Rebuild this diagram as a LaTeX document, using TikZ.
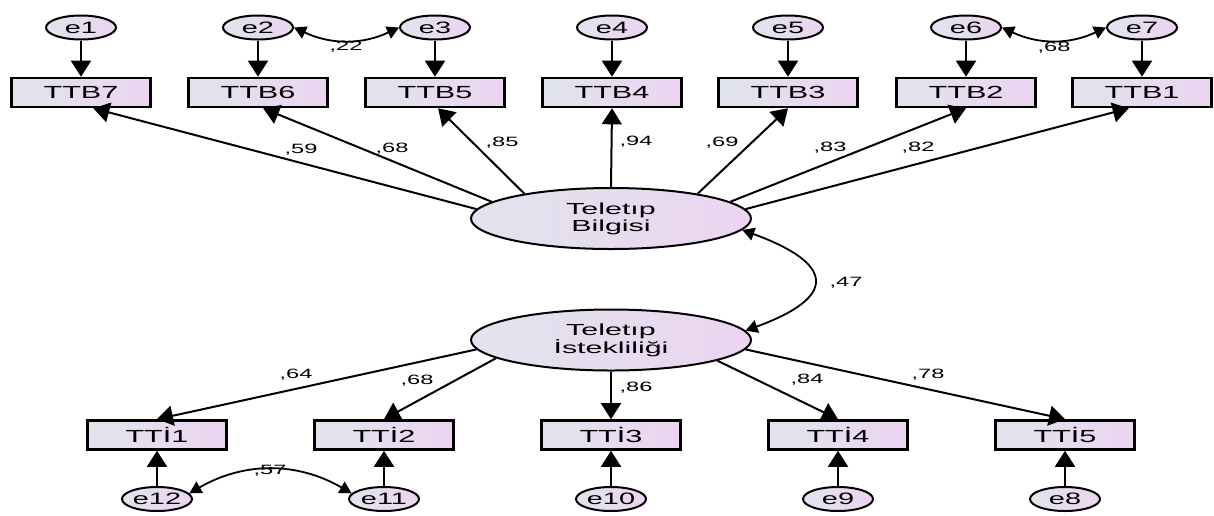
\documentclass[tikz,border=0pt]{standalone}
\usepackage{fontspec}
\setmainfont{Liberation Sans}[FakeStretch=1.75]
\newfontfamily\latfont{Liberation Sans}[FakeStretch=1.9]
\usepackage{tikz}
\usetikzlibrary{arrows.meta,shapes.geometric}
\definecolor{amosleft}{RGB}{225,228,237}
\definecolor{amosright}{RGB}{236,212,241}
\tikzstyle{observed}=[rectangle, draw, line width=2.6pt, minimum width=139pt, minimum height=29pt, inner sep=0pt, left color=amosleft, right color=amosright, font=\fontsize{17.5}{20}\selectfont]
\tikzstyle{errvar}=[ellipse, draw, line width=2pt, minimum width=70pt, minimum height=24pt, inner sep=0pt, left color=amosleft, right color=amosright, font=\fontsize{16.5}{19}\selectfont]
\tikzstyle{latent}=[ellipse, draw, line width=2pt, minimum width=280pt, minimum height=61pt, inner sep=0pt, align=center, left color=amosleft, right color=amosright, font=\latfont\fontsize{16}{17}\selectfont]
\tikzstyle{coef}=[inner sep=0pt, font=\fontsize{13.5}{15}\selectfont]
\tikzstyle{loading}=[draw=black, line width=2pt, -{Triangle[length=16pt,width=20pt]}]
\tikzstyle{cov}=[draw=black, line width=1.8pt, {Triangle[length=12pt,width=13pt]}-{Triangle[length=12pt,width=13pt]}]

\begin{document}
\begin{tikzpicture}[x=1pt,y=1pt]
	\useasboundingbox (0,0) rectangle (1214,-515);
	\begin{scope}
		% latent variables
		\node (TB) at (611,-218.5)[latent] {Teletıp\\Bilgisi};
		\node (TI) at (611,-340)[latent] {Teletıp\\İstekliliği};
		% top indicators
		\node (TTB7) at (81,-92.5)[observed] {TTB7};
		\node (TTB6) at (258,-92.5)[observed] {TTB6};
		\node (TTB5) at (435,-92.5)[observed] {TTB5};
		\node (TTB4) at (612,-92.5)[observed] {TTB4};
		\node (TTB3) at (788,-92.5)[observed] {TTB3};
		\node (TTB2) at (966,-92.5)[observed] {TTB2};
		\node (TTB1) at (1142,-92.5)[observed] {TTB1};
		\node (e1) at (81,-27.5)[errvar] {e1};
		\node (e2) at (258,-27.5)[errvar] {e2};
		\node (e3) at (435,-27.5)[errvar] {e3};
		\node (e4) at (612,-27.5)[errvar] {e4};
		\node (e5) at (788,-27.5)[errvar] {e5};
		\node (e6) at (966,-27.5)[errvar] {e6};
		\node (e7) at (1142,-27.5)[errvar] {e7};
		% bottom indicators
		\node (TTI1) at (157,-435)[observed] {TTİ1};
		\node (TTI2) at (384,-435)[observed] {TTİ2};
		\node (TTI3) at (611,-435)[observed] {TTİ3};
		\node (TTI4) at (838,-435)[observed] {TTİ4};
		\node (TTI5) at (1065,-435)[observed] {TTİ5};
		\node (e12) at (157,-499)[errvar] {e12};
		\node (e11) at (384,-499)[errvar] {e11};
		\node (e10) at (611,-499)[errvar] {e10};
		\node (e9) at (838,-499)[errvar] {e9};
		\node (e8) at (1065,-499)[errvar] {e8};
	\end{scope}
	\begin{scope}
		\path (TB.176) edge[loading] (TTB7.-52);
		\path (TB.172) edge[loading] (TTB6.-72);
		\path (TB.164) edge[loading] (TTB5.-79);
		\path (TB.north) edge[loading] (TTB4.south);
		\path (TB.16) edge[loading] (TTB3.south);
		\path (TB.8) edge[loading] (TTB2.south);
		\path (TB.4) edge[loading] (TTB1.-130);
		\path (TI.184) edge[loading] (TTI1.north);
		\path (TI.189) edge[loading] (TTI2.north);
		\path (TI.south) edge[loading] (TTI3.north);
		\path (TI.349) edge[loading] (TTI4.north);
		\path (TI.356) edge[loading] (TTI5.north);
		\path (e1) edge[loading] (TTB7);
		\path (e2) edge[loading] (TTB6);
		\path (e3) edge[loading] (TTB5);
		\path (e4) edge[loading] (TTB4);
		\path (e5) edge[loading] (TTB3);
		\path (e6) edge[loading] (TTB2);
		\path (e7) edge[loading] (TTB1);
		\path (e12) edge[loading] (TTI1);
		\path (e11) edge[loading] (TTI2);
		\path (e10) edge[loading] (TTI3);
		\path (e9) edge[loading] (TTI4);
		\path (e8) edge[loading] (TTI5);
		\path (e2.east) edge[cov, bend right=25] (e3.west);
		\path (e6.east) edge[cov, bend right=25] (e7.west);
		\path (e12.10) edge[cov, bend left=30] (e11.170);
		\path (TB.355) edge[cov, out=-20, in=20, looseness=2.5] (TI.4);
	\end{scope}
	\begin{scope}
		\node (c59) at (301,-150)[coef] {,59};
		\node (c68a) at (392,-149)[coef] {,68};
		\node (c85) at (502,-143)[coef] {,85};
		\node (c94) at (636,-142)[coef] {,94};
		\node (c69) at (722,-143)[coef] {,69};
		\node (c83) at (830,-148)[coef] {,83};
		\node (c82) at (918,-148)[coef] {,82};
		\node (c22) at (346,-47)[coef] {,22};
		\node (c68b) at (1054,-48)[coef] {,68};
		\node (c47) at (846,-283)[coef] {,47};
		\node (c64) at (296,-375)[coef] {,64};
		\node (c68c) at (417,-381)[coef] {,68};
		\node (c86) at (636,-388)[coef] {,86};
		\node (c84) at (807,-380)[coef] {,84};
		\node (c78) at (928,-375)[coef] {,78};
		\node (c57) at (270,-471)[coef] {,57};
	\end{scope}
\end{tikzpicture}
\end{document}
